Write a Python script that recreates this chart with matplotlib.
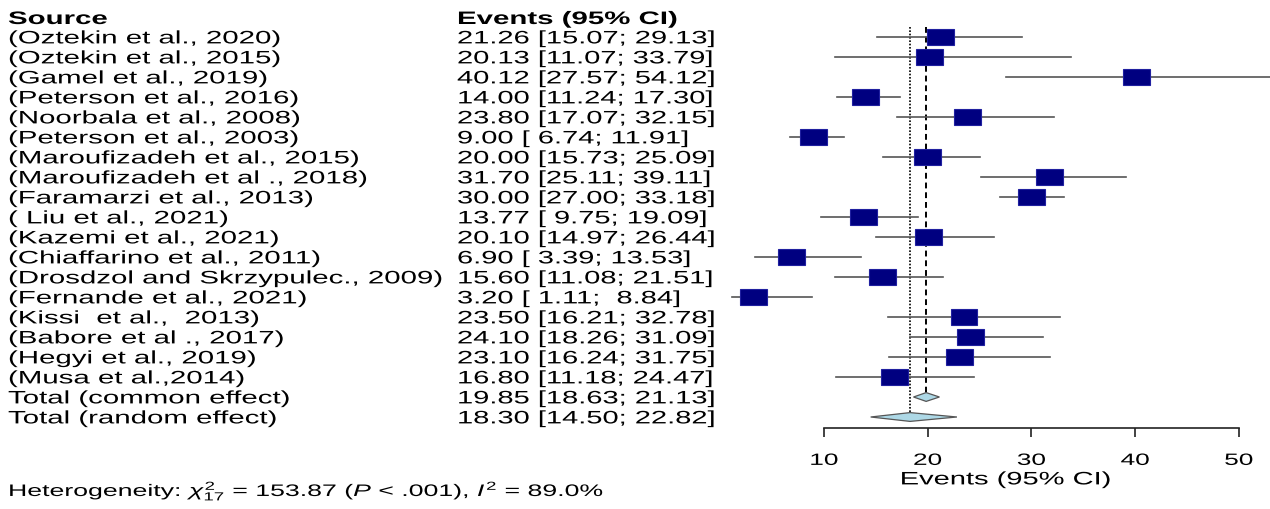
import numpy as np
import matplotlib
matplotlib.use("Agg")
import matplotlib.pyplot as plt
from matplotlib.patches import Rectangle, Polygon
from matplotlib.patheffects import AbstractPathEffect
from matplotlib.transforms import Affine2D, blended_transform_factory

# study data (events, 95% CI)
sources = ["(Oztekin et al., 2020)", "(Oztekin et al., 2015)", "(Gamel et al., 2019)",
           "(Peterson et al., 2016)", "(Noorbala et al., 2008)", "(Peterson et al., 2003)",
           "(Maroufizadeh et al., 2015)", "(Maroufizadeh et al ., 2018)", "(Faramarzi et al., 2013)",
           "( Liu et al., 2021)", "(Kazemi et al., 2021)", "(Chiaffarino et al., 2011)",
           "(Drosdzol and Skrzypulec., 2009)", "(Fernande et al., 2021)", "(Kissi  et al.,  2013)",
           "(Babore et al ., 2017)", "(Hegyi et al., 2019)", "(Musa et al.,2014)"]
est = [21.26, 20.13, 40.12, 14.00, 23.80, 9.00, 20.00, 31.70, 30.00,
       13.77, 20.10, 6.90, 15.60, 3.20, 23.50, 24.10, 23.10, 16.80]
lo = [15.07, 11.07, 27.57, 11.24, 17.07, 6.74, 15.73, 25.11, 27.00,
      9.75, 14.97, 3.39, 11.08, 1.11, 16.21, 18.26, 16.24, 11.18]
hi = [29.13, 33.79, 54.12, 17.30, 32.15, 11.91, 25.09, 39.11, 33.18,
      19.09, 26.44, 13.53, 21.51, 8.84, 32.78, 31.09, 31.75, 24.47]

pooled_names = ["Total (common effect)", "Total (random effect)"]
pooled_est = [19.85, 18.30]
pooled_lo = [18.63, 14.50]
pooled_hi = [21.13, 22.82]

xticks = [10, 20, 30, 40, 50]
hetero = r"Heterogeneity: $\chi^2_{17}$ = 153.87 ($P$ < .001), $I^2$ = 89.0%"

plt.rcParams['font.family'] = ['Liberation Sans', 'DejaVu Sans']
plt.rcParams['mathtext.fontset'] = 'custom'
plt.rcParams['mathtext.rm'] = 'Liberation Sans'
plt.rcParams['mathtext.it'] = 'Liberation Sans:italic'
plt.rcParams['mathtext.bf'] = 'Liberation Sans:bold'


class Stretch(AbstractPathEffect):
    # the reference text is drawn wide, so stretch glyphs horizontally
    def __init__(self, sx=1.6, anchor='left'):
        super().__init__()
        self.sx = sx
        self.anchor = anchor

    def draw_path(self, renderer, gc, tpath, affine, rgbFace=None):
        if self.anchor == 'center':
            ext = tpath.get_extents(affine)
            x0 = (ext.x0 + ext.x1) / 2
        else:
            x0 = affine.transform((0, 0))[0]
        st = affine + Affine2D().translate(-x0, 0).scale(self.sx, 1).translate(x0, 0)
        renderer.draw_path(gc, tpath, st, rgbFace)


W, H = 1270, 509
fig = plt.figure(figsize=(W / 100, H / 100), dpi=100)
x0px, pxu = 720.3, 10.37   # pixel of value 0, pixels per unit
ax = fig.add_axes([x0px / W, 0, 1 - x0px / W, 1])
ax.set_xlim(0, (W - x0px) / pxu)
ax.set_ylim((H - 37) / 20, -37 / 20)   # rows 20 px apart, first row at 37 px

fs = 13
left = blended_transform_factory(fig.transFigure, ax.transData)
sl = [Stretch(1.63)]
base = 0.32   # baseline offset (rows) so the caps are centred on the row

ax.text(8 / W, -0.97 + base, "Source", transform=left, fontsize=fs, weight='bold',
        va='baseline', path_effects=sl)
ax.text(457 / W, -0.97 + base, "Events (95% CI)", transform=left, fontsize=fs,
        weight='bold', va='baseline', path_effects=sl)

n = len(sources)
names = sources + pooled_names
e_all = est + pooled_est
l_all = lo + pooled_lo
h_all = hi + pooled_hi
for i in range(len(names)):
    ax.text(8 / W, i + base, names[i], transform=left, fontsize=fs, va='baseline',
            path_effects=sl)
    lab = "%.2f [%5.2f; %5.2f]" % (e_all[i], l_all[i], h_all[i])
    ax.text(457 / W, i + base, lab, transform=left, fontsize=fs, va='baseline',
            path_effects=[Stretch(1.61)])

# study CIs and squares
bw, bh = 2.6, 0.76
for i in range(n):
    ax.plot([lo[i], hi[i]], [i, i], color='#555555', lw=1.2, zorder=2)
    ax.add_patch(Rectangle((est[i] - bw / 2, i - bh / 2), bw, bh, facecolor='#000080',
                           edgecolor='#2020a0', lw=0.8, zorder=3))

# pooled diamonds
dh = 0.22
for k in range(2):
    y = n + k
    ax.add_patch(Polygon([[pooled_lo[k], y], [pooled_est[k], y - dh], [pooled_hi[k], y],
                          [pooled_est[k], y + dh]], closed=True, facecolor='#add8e6',
                         edgecolor='#555555', lw=0.9, zorder=3))

ax.plot([pooled_est[0]] * 2, [-0.5, n - dh], color='black', lw=1.4, ls=(0, (3, 2)), zorder=1)
ax.plot([pooled_est[1]] * 2, [-0.5, n + 1 - dh], color='black', lw=1.2, ls=(0, (1, 1)), zorder=1)

# x axis
for s in ['top', 'right', 'left']:
    ax.spines[s].set_visible(False)
ax.spines['bottom'].set_position(('data', (427.7 - 37) / 20))
ax.spines['bottom'].set_bounds(xticks[0], xticks[-1])
ax.spines['bottom'].set_linewidth(1.2)
ax.spines['bottom'].set_color('#222222')
ax.set_yticks([])
ax.set_xticks(xticks)
ax.set_xticklabels([])
ax.tick_params(axis='x', length=6.5, width=1.2, color='#222222')
for v in xticks:
    ax.text(v, (459 + 5.9 - 37) / 20, str(v), ha='center', va='baseline', fontsize=11.8,
            path_effects=[Stretch(1.6, 'center')])
ax.text(27.5, (478 + 6.4 - 37) / 20, "Events (95% CI)", ha='center', va='baseline',
        fontsize=fs, path_effects=[Stretch(1.61, 'center')])

fig.text(8 / W, 1 - (490 + 6) / H, hetero, fontsize=12, va='baseline',
         path_effects=[Stretch(1.6)])

fig.savefig("out.png", dpi=100)
